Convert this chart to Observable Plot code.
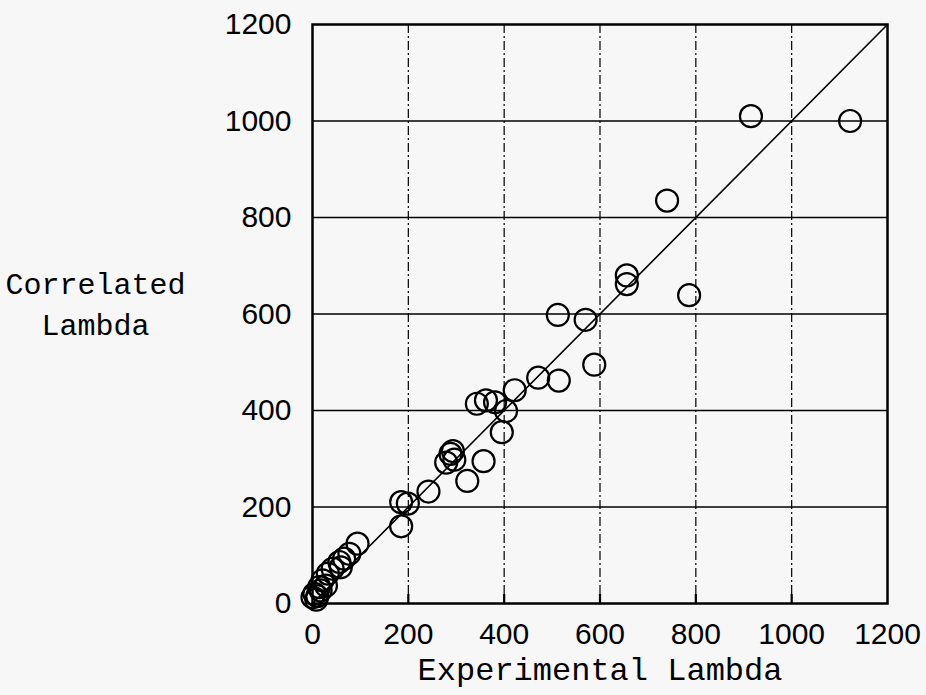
<!DOCTYPE html>
<html>
<head>
<meta charset="utf-8">
<script src="https://cdn.jsdelivr.net/npm/d3@7"></script>
<script src="https://cdn.jsdelivr.net/npm/@observablehq/plot@0.6"></script>
<style>
  html, body { margin: 0; padding: 0; background: #f7f7f7; }
  #chart svg { display: block; background: #f7f7f7; }
</style>
</head>
<body>
<div id="chart"></div>
<script>
// Experimental vs correlated lambda
const experimental = [915, 1122, 740, 656, 656, 786, 512, 570, 588, 471, 514, 422, 404, 395,
  343, 362, 381, 357, 323, 288, 293, 279, 296, 242, 185, 199, 185, 94, 77, 66, 56, 59,
  42, 32, 21, 28, 14, 17, 4, 0, 8, 10];
const correlated = [1010, 1000, 835, 680, 662, 639, 598, 588, 495, 468, 462, 442, 399, 355,
  414, 421, 417, 295, 254, 310, 316, 292, 298, 232, 210, 207, 160, 124, 103, 93, 86, 75,
  72, 62, 48, 37, 34, 27, 20, 13, 8, 15];
const parityLine = [0, 1200];
const xTicks = [0, 200, 400, 600, 800, 1000, 1200];
const yTicks = [0, 200, 400, 600, 800, 1000, 1200];
const gridTicks = [200, 400, 600, 800, 1000];
const xLabel = "Experimental Lambda";
const yLabel = "Correlated\nLambda";

const points = experimental.map((x, i) => ({x, y: correlated[i]}));
const diag = parityLine.map(v => ({x: v, y: v}));
const fmt = d => String(d);

const chart = Plot.plot({
  width: 926,
  height: 695,
  marginLeft: 312,
  marginRight: 39,
  marginTop: 24,
  marginBottom: 92,
  style: {background: "#f7f7f7", color: "black", fontFamily: "'Liberation Sans', Arial, sans-serif", fontSize: "30px"},
  x: {domain: [0, 1200]},
  y: {domain: [0, 1200]},
  marks: [
    Plot.ruleY(gridTicks, {stroke: "black", strokeWidth: 1.5}),
    Plot.ruleX(gridTicks, {stroke: "black", strokeWidth: 1.2, strokeDasharray: "9,3,2,3"}),
    Plot.tickX(gridTicks, {x: d => d, insetTop: 570, stroke: "black", strokeWidth: 2.2}),
    Plot.axisX(xTicks, {anchor: "bottom", tickSize: 0, tickPadding: 19, fontSize: 30, tickFormat: fmt, label: null}),
    Plot.axisY(yTicks, {anchor: "left", tickSize: 0, tickPadding: 21, fontSize: 30, tickFormat: fmt, label: null}),
    Plot.line(diag, {x: "x", y: "y", stroke: "black", strokeWidth: 1.6}),
    Plot.dot(points, {x: "x", y: "y", r: 11, stroke: "black", strokeWidth: 2.2, fill: "none"}),
    Plot.frame({stroke: "black", strokeWidth: 2.5}),
    Plot.text([yLabel], {frameAnchor: "left", dx: -217, dy: -13, textAnchor: "middle", lineHeight: 1.37,
      fontFamily: "'Liberation Mono', 'Courier New', monospace", fontSize: 30, fill: "black"}),
    Plot.text([xLabel], {frameAnchor: "bottom", dy: 76, textAnchor: "middle",
      fontFamily: "'Liberation Mono', 'Courier New', monospace", fontSize: 32, fill: "black"})
  ]
});
document.getElementById("chart").appendChild(chart);
</script>
</body>
</html>
